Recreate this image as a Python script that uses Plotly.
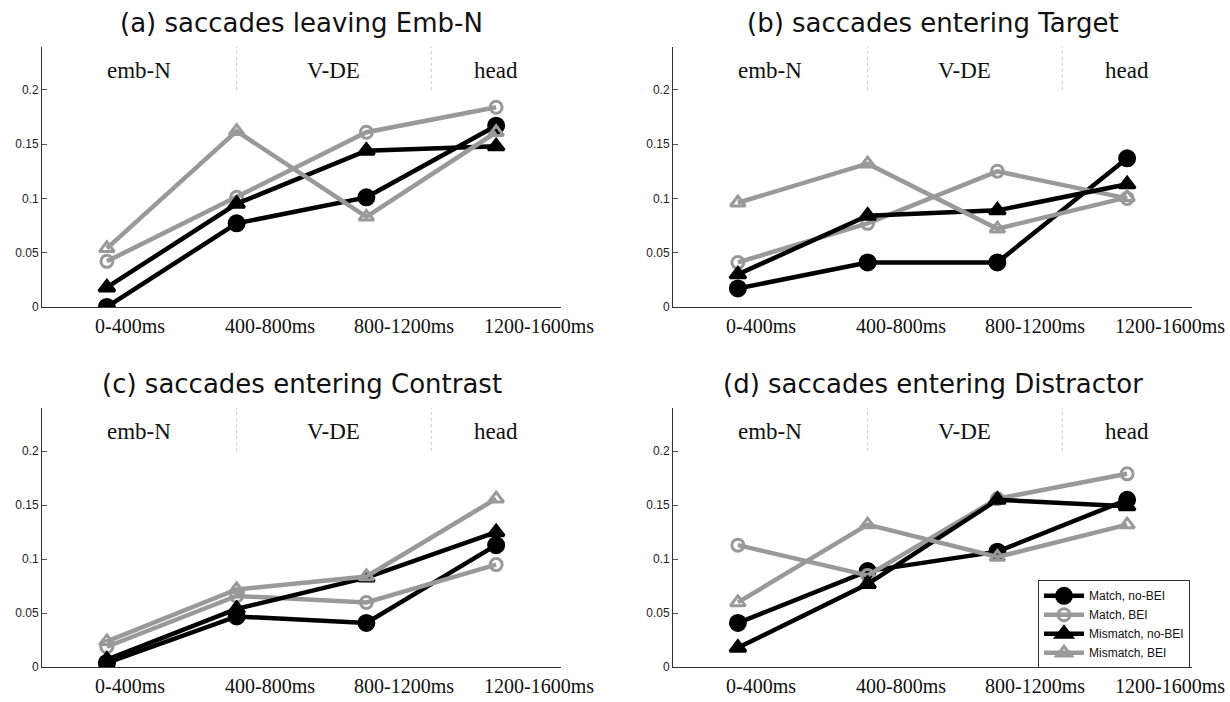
import plotly.graph_objects as go

categories = ["0-400ms", "400-800ms", "800-1200ms", "1200-1600ms"]
regions = ["emb-N", "V-DE", "head"]
region_centers = [0.25, 1.75, 3.0]
region_dividers = [1.0, 2.5]
panel_titles = ["(a) saccades leaving Emb-N", "(b) saccades entering Target",
                "(c) saccades entering Contrast", "(d) saccades entering Distractor"]
series_names = ["Match, no-BEI", "Match, BEI", "Mismatch, no-BEI", "Mismatch, BEI"]
y_ticks = [0, 0.05, 0.1, 0.15, 0.2]
y_tick_text = ["0", "0.05", "0.1", "0.15", "0.2"]

a_match_nobei = [0.0, 0.077, 0.101, 0.167]
a_match_bei = [0.042, 0.101, 0.161, 0.184]
a_mis_nobei = [0.018, 0.095, 0.144, 0.148]
a_mis_bei = [0.054, 0.162, 0.083, 0.161]

b_match_nobei = [0.017, 0.041, 0.041, 0.137]
b_match_bei = [0.041, 0.077, 0.125, 0.100]
b_mis_nobei = [0.030, 0.084, 0.089, 0.113]
b_mis_bei = [0.096, 0.132, 0.072, 0.101]

c_match_nobei = [0.004, 0.047, 0.041, 0.113]
c_match_bei = [0.019, 0.066, 0.060, 0.095]
c_mis_nobei = [0.007, 0.054, 0.083, 0.125]
c_mis_bei = [0.024, 0.072, 0.084, 0.156]

d_match_nobei = [0.041, 0.089, 0.107, 0.155]
d_match_bei = [0.113, 0.085, 0.156, 0.179]
d_mis_nobei = [0.018, 0.077, 0.155, 0.149]
d_mis_bei = [0.060, 0.132, 0.102, 0.132]

panels = [
    [a_match_nobei, a_match_bei, a_mis_nobei, a_mis_bei],
    [b_match_nobei, b_match_bei, b_mis_nobei, b_mis_bei],
    [c_match_nobei, c_match_bei, c_mis_nobei, c_mis_bei],
    [d_match_nobei, d_match_bei, d_mis_nobei, d_mis_bei],
]

BLACK = "#000000"
GRAY = "#999999"
styles = [
    dict(color=BLACK, symbol="circle", size=15, fill=BLACK),
    dict(color=GRAY, symbol="circle-open", size=12, fill=GRAY),
    dict(color=BLACK, symbol="triangle-up", size=14, fill=BLACK),
    dict(color=GRAY, symbol="triangle-up-open", size=13, fill=GRAY),
]

W, H = 1230, 702
# pixel boxes for axes: (left, right, top, bottom)
boxes = [(42, 561, 47, 310), (673, 1192, 47, 310),
         (42, 561, 412, 674), (673, 1192, 412, 674)]

fig = go.Figure()
layout = dict(width=W, height=H, margin=dict(l=0, r=0, t=0, b=0),
              paper_bgcolor="white", plot_bgcolor="white", showlegend=True)
annotations = []
shapes = []

SERIF = "Liberation Serif, Times New Roman, serif"
SANS = "Liberation Sans, Arial, sans-serif"

for p, (vals, box) in enumerate(zip(panels, boxes)):
    idx = "" if p == 0 else str(p + 1)
    xa, ya = "x" + idx, "y" + idx
    l, r, t, b = box
    layout["xaxis" + idx] = dict(
        domain=[l / W, r / W], anchor=ya, type="category",
        categoryorder="array", categoryarray=categories,
        range=[-0.5, 3.5], showticklabels=False, ticks="",
        showgrid=False, zeroline=False, showline=True,
        linecolor="#333333", linewidth=1)
    layout["yaxis" + idx] = dict(
        domain=[1 - b / H, 1 - t / H], anchor=xa, range=[0, 0.24],
        tickvals=y_ticks, ticktext=y_tick_text, ticks="inside", ticklen=5,
        tickcolor="#555555", showgrid=False, zeroline=False, showline=True,
        linecolor="#333333", linewidth=1,
        tickfont=dict(family=SANS, size=12, color="#222222"))
    for s, (name, v, st) in enumerate(zip(series_names, vals, styles)):
        fig.add_trace(go.Scatter(
            x=categories, y=v, xaxis=xa, yaxis=ya, name=name,
            mode="lines+markers", showlegend=(p == 3), legendrank=s,
            line=dict(color=st["color"], width=4.5),
            marker=dict(symbol=st["symbol"], size=st["size"], color=st["fill"],
                        line=dict(color=st["color"], width=3))))
    # title
    annotations.append(dict(
        text=panel_titles[p], xref="paper", yref="paper",
        x=((l + r) / 2) / W, y=1 - (t - 24) / H, xanchor="center", yanchor="middle",
        showarrow=False, font=dict(family="DejaVu Sans", size=26, color="#111111")))
    # x tick labels
    for c in categories:
        annotations.append(dict(
            text=c, xref=xa, yref=ya, x=c, y=0, xanchor="left", yanchor="top",
            xshift=-14, yshift=-6, showarrow=False,
            font=dict(family=SERIF, size=20, color="#111111")))
    # region labels
    for rc, rl in zip(region_centers, regions):
        annotations.append(dict(
            text=rl, xref=xa, yref=ya, x=rc, y=0.218, xanchor="center", yanchor="middle",
            showarrow=False,
            font=dict(family=SERIF, size=23, color="#111111")))
    for dv in region_dividers:
        shapes.append(dict(type="line", xref=xa, yref=ya, x0=dv, x1=dv, y0=0.2, y1=0.24,
                           line=dict(color="#c8c8c8", width=1, dash="dot")))

layout["annotations"] = annotations
layout["shapes"] = shapes
layout["legend"] = dict(
    x=1190 / W, y=1 - 675 / H, xanchor="right", yanchor="bottom",
    bgcolor="white", bordercolor="#333333", borderwidth=1,
    font=dict(family=SANS, size=12, color="#111111"),
    tracegroupgap=0, itemwidth=40)
fig.update_layout(**layout)
fig.write_html("out.html")
